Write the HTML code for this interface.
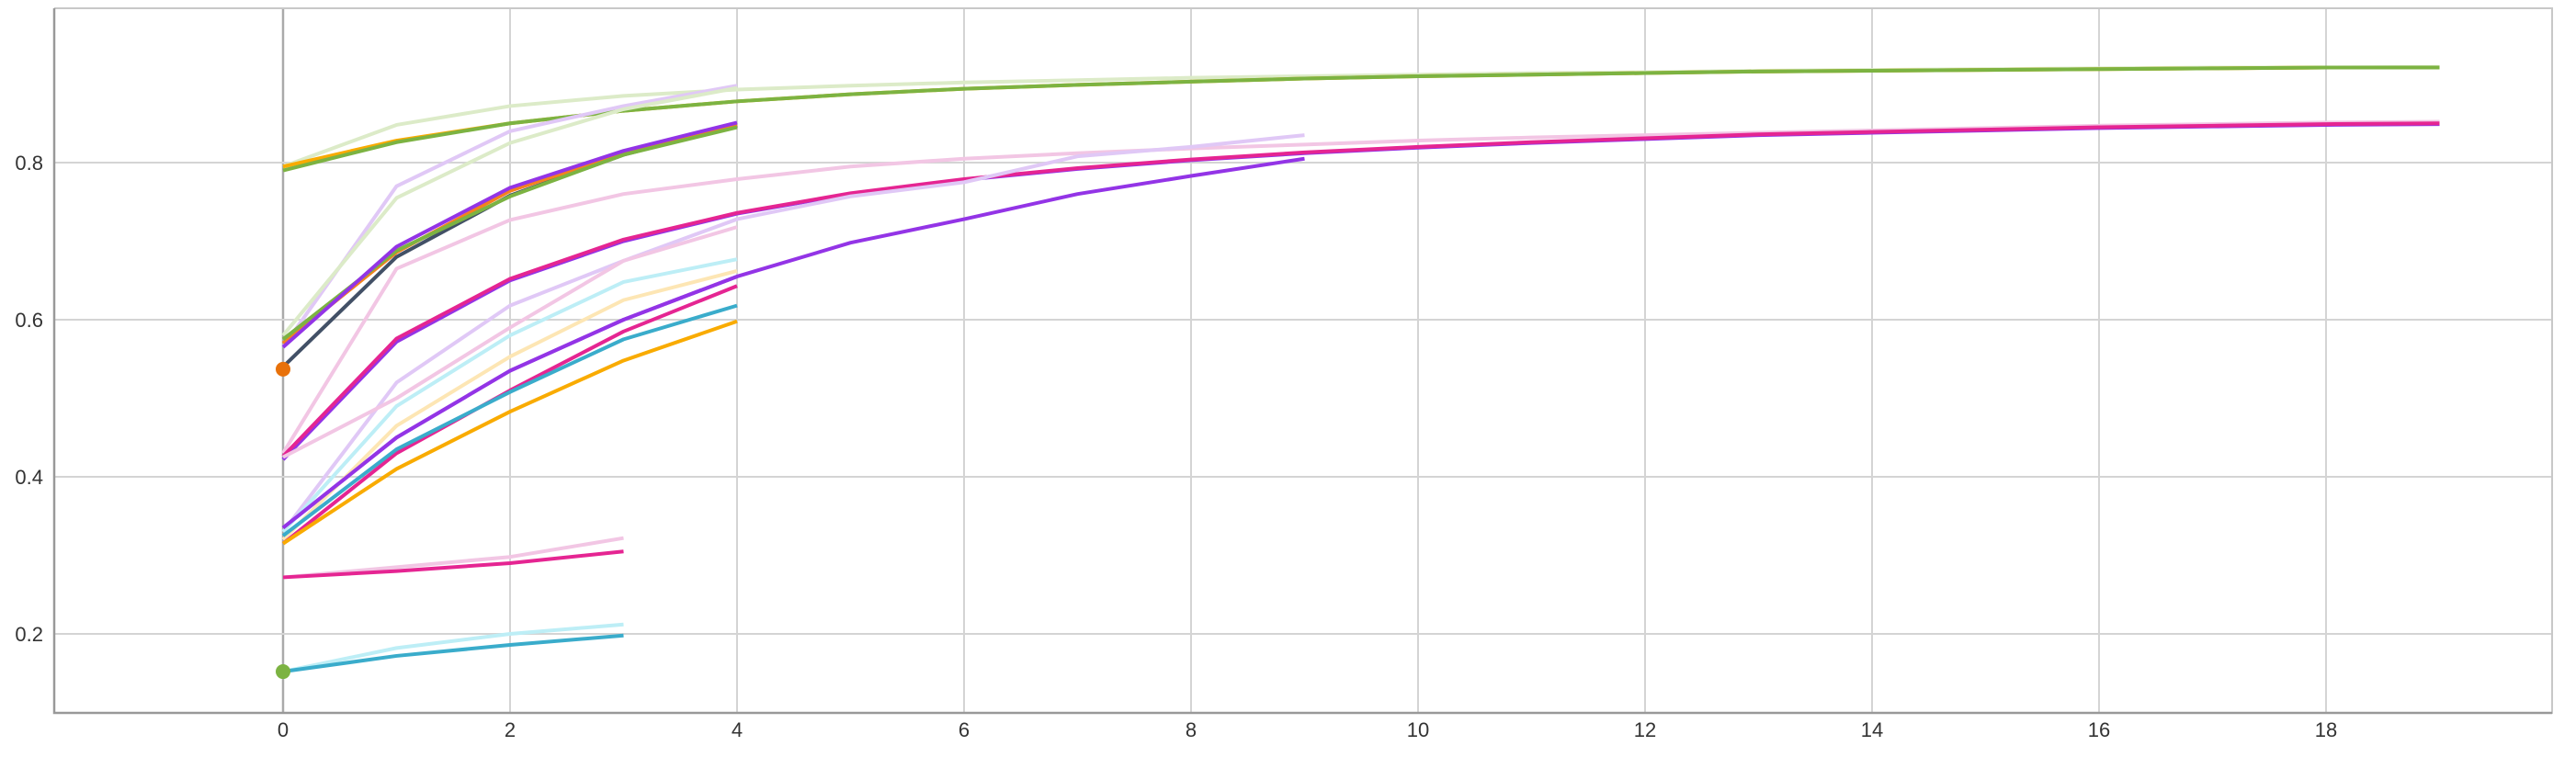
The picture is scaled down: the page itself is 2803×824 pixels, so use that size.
<!DOCTYPE html>
<html><head><meta charset="utf-8"><style>
html,body{margin:0;padding:0;background:#fff;}
svg{display:block;font-family:"Liberation Sans",sans-serif;}
</style></head><body>
<svg id="chart" width="2803" height="824" viewBox="0 0 2803 824" xmlns="http://www.w3.org/2000/svg">
<g id="grid"></g>
<g id="series"></g>
<g id="axes"></g>
</svg>
<script>
const xTicks = [0,2,4,6,8,10,12,14,16,18];
const yTicks = [0.2,0.4,0.6,0.8];
const yTickLabels = ["0.2","0.4","0.6","0.8"];
const seriesNames = ["light-green-long","orange-long","green-long","light-pink-long","purple-long","magenta-long","lavender-9","purple-9","lavender-4a","light-green-4","slate-4","orange-4a","green-4","purple-4a","light-pink-4","light-cyan-4","light-yellow-4","purple-4b","magenta-4","cyan-4","orange-4b","light-pink-3","magenta-3","light-cyan-3","cyan-3"];
const seriesColors = ["#dcebc8","#f9ab00","#7cb342","#f2c6e4","#9334e6","#e52592","#e0c8f6","#9334e6","#e0c8f6","#dcebc8","#425066","#f5811f","#7cb342","#9334e6","#f2c6e4","#bdeef6","#fde6b4","#9334e6","#e52592","#3aaccb","#f9ab00","#f2c6e4","#e52592","#bdeef6","#3aaccb"];
const s0 = [0.795,0.848,0.872,0.885,0.893,0.898,0.902,0.905,0.908,0.91,0.912,0.914,0.915,0.917,0.918,0.919,0.92,0.921,0.921,0.922];
const s1 = [0.795,0.828,0.85,0.866,0.878,0.887,0.894,0.899,0.903,0.907,0.91,0.912,0.914,0.916,0.917,0.918,0.919,0.92,0.921,0.921];
const s2 = [0.79,0.826,0.85,0.866,0.878,0.887,0.894,0.899,0.903,0.907,0.91,0.912,0.914,0.916,0.917,0.918,0.919,0.92,0.921,0.921];
const s3 = [0.43,0.665,0.727,0.76,0.779,0.795,0.805,0.812,0.818,0.823,0.828,0.832,0.835,0.838,0.841,0.844,0.847,0.849,0.851,0.852];
const s4 = [0.422,0.572,0.65,0.7,0.735,0.76,0.778,0.792,0.803,0.812,0.819,0.825,0.83,0.835,0.838,0.841,0.844,0.846,0.848,0.849];
const s5 = [0.426,0.576,0.652,0.702,0.736,0.761,0.779,0.793,0.804,0.813,0.82,0.826,0.831,0.836,0.839,0.842,0.845,0.847,0.849,0.85];
const s6 = [0.33,0.52,0.618,0.675,0.728,0.757,0.775,0.808,0.82,0.835];
const s7 = [0.335,0.45,0.535,0.6,0.655,0.698,0.728,0.76,0.783,0.805];
const s8 = [0.565,0.77,0.84,0.872,0.898];
const s9 = [0.58,0.755,0.825,0.868,0.895];
const s10 = [0.54,0.68,0.758,0.81,0.847];
const s11 = [0.57,0.686,0.764,0.812,0.848];
const s12 = [0.575,0.688,0.757,0.81,0.845];
const s13 = [0.565,0.693,0.768,0.815,0.851];
const s14 = [0.425,0.5,0.59,0.675,0.718];
const s15 = [0.33,0.49,0.58,0.648,0.677];
const s16 = [0.32,0.465,0.553,0.625,0.662];
const s17 = [0.335,0.45,0.535,0.6,0.655];
const s18 = [0.315,0.43,0.51,0.585,0.643];
const s19 = [0.325,0.435,0.508,0.575,0.618];
const s20 = [0.315,0.41,0.483,0.548,0.598];
const s21 = [0.272,0.285,0.298,0.322];
const s22 = [0.272,0.28,0.29,0.305];
const s23 = [0.152,0.182,0.2,0.212];
const s24 = [0.152,0.172,0.186,0.198];
const seriesValues = [s0,s1,s2,s3,s4,s5,s6,s7,s8,s9,s10,s11,s12,s13,s14,s15,s16,s17,s18,s19,s20,s21,s22,s23,s24];
const dotValues = [0.537,0.152];
const dotColors = ["#e8710a","#7cb342"];

const NS="http://www.w3.org/2000/svg";
const L=59,R=2777,T=9,B=776;
function xs(v){return 308+v*123.5;}
function ys(v){return 177+(0.8-v)*855;}
function mk(tag,parent){const e=document.createElementNS(NS,tag);parent.appendChild(e);return e;}
const grid=document.getElementById('grid'),ser=document.getElementById('series'),axes=document.getElementById('axes');
xTicks.forEach(t=>{
  const l=mk('line',grid);
  
  
  l.setAttribute('x1',xs(t));l.setAttribute('x2',xs(t));l.setAttribute('y1',T);l.setAttribute('y2',B);
  l.setAttribute('stroke',t===0?'#aaaaaa':'#d4d4d4');l.setAttribute('stroke-width',t===0?2.5:2);
  const tx=mk('text',axes);
  
  
  tx.setAttribute('x',xs(t));tx.setAttribute('y',802);tx.setAttribute('text-anchor','middle');
  tx.setAttribute('font-size','22');tx.setAttribute('fill','#333');tx.textContent=String(t);
});
yTicks.forEach((t,i)=>{
  const l=mk('line',grid);
  
  
  l.setAttribute('x1',L);l.setAttribute('x2',R);l.setAttribute('y1',ys(t));l.setAttribute('y2',ys(t));
  l.setAttribute('stroke','#d4d4d4');l.setAttribute('stroke-width',2);
  const tx=mk('text',axes);
  
  
  tx.setAttribute('x',47);tx.setAttribute('y',ys(t)+8);tx.setAttribute('text-anchor','end');
  tx.setAttribute('font-size','22');tx.setAttribute('fill','#333');tx.textContent=yTickLabels[i];
});
const frame=mk('path',axes);


frame.setAttribute('d',`M${L},${T} V${B} H${R} V${T} H${L}`);
frame.setAttribute('fill','none');frame.setAttribute('stroke','#c8c8c8');frame.setAttribute('stroke-width',2);
const ax=mk('path',axes);


ax.setAttribute('d',`M${L},${T} V${B} H${R}`);
ax.setAttribute('fill','none');ax.setAttribute('stroke','#999');ax.setAttribute('stroke-width',2.5);
seriesValues.forEach((vals,i)=>{
  const p=mk('path',ser);
  
  
  p.setAttribute('d',vals.map((v,j)=>(j?'L':'M')+xs(j)+','+ys(v)).join(' '));
  p.setAttribute('fill','none');p.setAttribute('stroke',seriesColors[i]);
  p.setAttribute('stroke-width',4);p.setAttribute('stroke-linejoin','round');
});
dotValues.forEach((v,i)=>{
  const c=mk('circle',ser);
  
  
  c.setAttribute('cx',xs(0));c.setAttribute('cy',ys(v));c.setAttribute('r',8);c.setAttribute('fill',dotColors[i]);
});
</script>
</body></html>
